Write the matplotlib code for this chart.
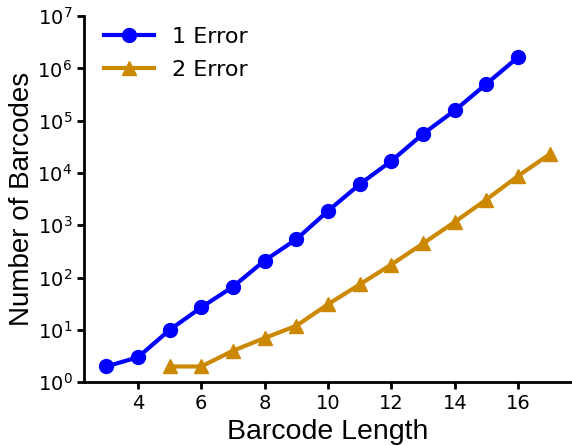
import numpy as np
import matplotlib
matplotlib.use("Agg")
import matplotlib.pyplot as plt

# barcode counts per length for each error tolerance
len_1err = [3, 4, 5, 6, 7, 8, 9, 10, 11, 12, 13, 14, 15, 16]
count_1err = [2, 3, 10, 27, 67, 212, 542, 1885, 6100, 17000, 56000, 157000, 506000, 1640000]

len_2err = [5, 6, 7, 8, 9, 10, 11, 12, 13, 14, 15, 16, 17]
count_2err = [2, 2, 4, 7, 12, 31, 74, 178, 449, 1160, 3110, 8800, 22900]

fig, ax = plt.subplots(figsize=(5.72, 4.46), dpi=100)

ax.plot(len_1err, count_1err, color='#0000ff', marker='o', lw=3, ms=10, label='1 Error')
ax.plot(len_2err, count_2err, color='#cc8800', marker='^', lw=3, ms=10, label='2 Error')

ax.set_yscale('log')
ax.set_ylim(1, 1e7)
ax.set_xticks([4, 6, 8, 10, 12, 14, 16])
ax.yaxis.set_minor_locator(matplotlib.ticker.NullLocator())

ax.spines['top'].set_visible(False)
ax.spines['right'].set_visible(False)
ax.spines['left'].set_linewidth(2)
ax.spines['bottom'].set_linewidth(2)
ax.tick_params(width=2, length=5, labelsize=14)

ax.set_xlabel('Barcode Length', fontsize=20.5, family='Liberation Sans')
ax.set_ylabel('Number of Barcodes', fontsize=20, family='Liberation Sans', labelpad=2)
ax.legend(loc='upper left', bbox_to_anchor=(0.0, 1.025), frameon=False, fontsize=16,
          handlelength=2.25, handletextpad=0.8, labelspacing=0.6)

plt.subplots_adjust(left=0.147, right=1.0, top=0.964, bottom=0.143)
plt.savefig('out.png', dpi=100)
